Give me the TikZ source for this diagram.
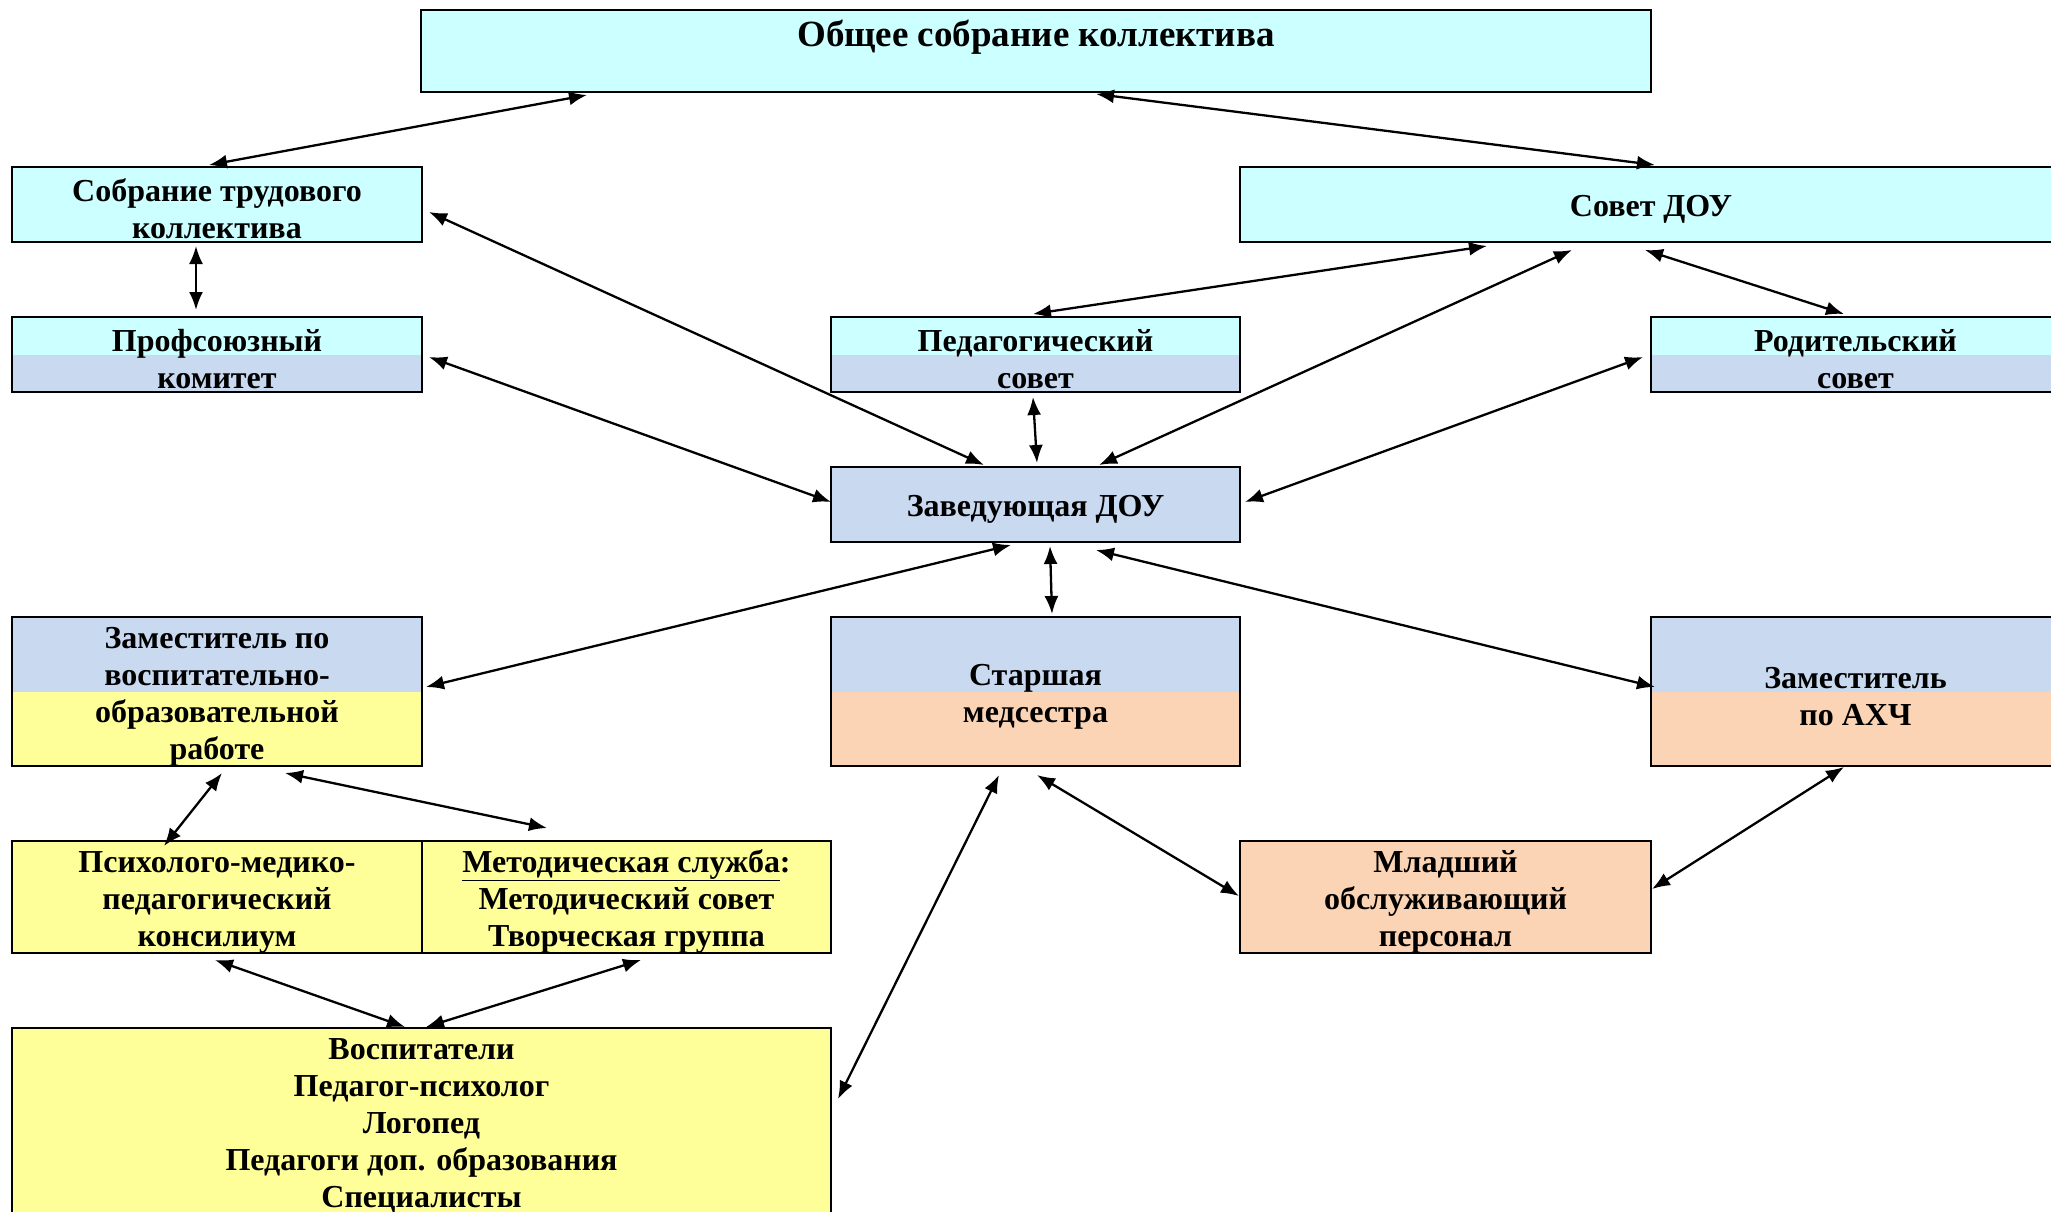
\documentclass[tikz,border=0pt]{standalone}
\usepackage{fontspec}
\setmainfont{Liberation Serif}
\usetikzlibrary{arrows.meta,calc}
\definecolor{cyanb}{RGB}{204,255,255}
\definecolor{blueb}{RGB}{200,217,240}
\definecolor{yellowb}{RGB}{255,255,153}
\definecolor{peachb}{RGB}{250,212,180}
\newcommand\tstr{\rule{0pt}{31pt}}
\begin{document}
\begin{tikzpicture}[x=1pt,y=-1pt,
  box/.style={draw=black,line width=2pt,inner sep=0pt,align=center,
    font=\fontsize{32}{37}\selectfont\bfseries},
  txt/.style={inner sep=0pt,align=center,font=\fontsize{32}{37}\selectfont\bfseries},
  twotone/.style 2 args={fill=#1,path picture={\fill[#2] (path picture bounding box.west) rectangle (path picture bounding box.south east);}},
  link/.style={line width=2.3pt,{Latex[length=18pt,width=14pt]}-{Latex[length=18pt,width=14pt]}}]
\useasboundingbox (0,0) rectangle (2051,1212);
\clip (0,0) rectangle (2051,1212);
\fill[white] (0,0) rectangle (2051,1212);

% boxes
\node[box,fill=cyanb,minimum width=1230pt,minimum height=82pt] (top) at (1036,51) {};
\node[txt,font=\fontsize{37}{42}\selectfont\bfseries] (toptxt) at ([shift={(0,28)}]top.north) {Общее собрание коллектива};

\node[box,fill=cyanb,minimum width=410pt,minimum height=75pt] (sobr) at (217,204.5) {\tstr Собрание трудового\\коллектива};
\node[box,fill=cyanb,minimum width=822pt,minimum height=75pt] (sovet) at (1651,204.5) {\tstr Совет ДОУ};

\node[box,twotone={cyanb}{blueb},minimum width=410pt,minimum height=75pt] (prof) at (217,354.5) {\tstr Профсоюзный\\комитет};
\node[box,twotone={cyanb}{blueb},minimum width=409pt,minimum height=75pt] (ped) at (1035.5,354.5) {\tstr Педагогический\\совет};
\node[box,twotone={cyanb}{blueb},minimum width=409pt,minimum height=75pt] (rod) at (1855.5,354.5) {\tstr Родительский\\совет};

\node[box,fill=blueb,minimum width=409pt,minimum height=75pt] (zav) at (1035.5,504.5) {\tstr Заведующая ДОУ};

\node[box,twotone={blueb}{yellowb},minimum width=410pt,minimum height=149pt] (zvor) at (217,691.5) {\tstr Заместитель по\\воспитательно-\\образовательной\\работе};
\node[box,twotone={blueb}{peachb},minimum width=409pt,minimum height=149pt] (med) at (1035.5,691.5) {\tstr Старшая\\медсестра};
\node[box,twotone={blueb}{peachb},minimum width=409pt,minimum height=149pt] (ahch) at (1855.5,691.5) {\tstr Заместитель\\по АХЧ};

\node[box,fill=yellowb,minimum width=410pt,minimum height=112pt] (psy) at (217,897) {\tstr Психолого-медико-\\педагогический\\консилиум};
\node[box,fill=yellowb,minimum width=409pt,minimum height=112pt] (met) at (626.5,897) {\tstr\underline{Методическая служба}:\\Методический совет\\Творческая группа};
\node[box,fill=peachb,minimum width=411pt,minimum height=112pt] (mlad) at (1445.5,897) {\tstr Младший\\обслуживающий\\персонал};

\node[box,fill=yellowb,minimum width=819pt,minimum height=212pt] (vosp) at (421.5,1134) {};
\node[txt] (vosptxt) at ([shift={(0,99)}]vosp.north) {Воспитатели\\Педагог-психолог\\Логопед\\Педагоги доп. образования\\Специалисты};

% connectors
\draw[link] ([shift={(-449,2)}]top.south) -- ([shift={(-8,-1)}]sobr.north);
\draw[link] ([shift={(60,1)}]top.south) -- ([shift={(4,-1)}]sovet.north);
\draw[link] ([shift={(-21,3)}]sobr.south) -- ([shift={(-21,-6)}]prof.north);
\draw[link] ([shift={(6,7.5)}]sobr.east) -- ([shift={(-51.5,-1)}]zav.north);
\draw[link] ([shift={(6,2.5)}]prof.east) -- ([shift={(1,-2.5)}]zav.west);
\draw[link] ([shift={(-164,3)}]sovet.south) -- ([shift={(-2.5,-2)}]ped.north);
\draw[link] ([shift={(-79,7)}]sovet.south) -- ([shift={(63.5,-1)}]zav.north);
\draw[link] ([shift={(-6,7)}]sovet.south) -- ([shift={(-11.5,-2)}]rod.north);
\draw[link] ([shift={(-2.5,4)}]ped.south) -- ([shift={(1.5,-3)}]zav.north);
\draw[link] ([shift={(4,-2.5)}]zav.east) -- ([shift={(-7,2.5)}]rod.west);
\draw[link] ([shift={(-24.5,2)}]zav.south) -- ([shift={(3,-4.5)}]zvor.east);
\draw[link] ([shift={(14.5,3)}]zav.south) -- ([shift={(16.5,-2)}]med.north);
\draw[link] ([shift={(60.5,7)}]zav.south) -- ([shift={(5,-4.5)}]ahch.west);
\draw[link] ([shift={(5,6)}]zvor.south) -- ([shift={(-53,6)}]psy.north);
\draw[link] ([shift={(68,6)}]zvor.south) -- ([shift={(-79.5,-12)}]met.north);
\draw[link] ([shift={(-2,6)}]psy.south) -- ([shift={(-16.5,0)}]vosp.north);
\draw[link] ([shift={(14.5,6)}]met.south) -- ([shift={(4.5,0)}]vosp.north);
\draw[link] ([shift={(-36.5,8)}]med.south) -- ([shift={(6,-35)}]vosp.east);
\draw[link] ([shift={(1.5,8)}]med.south) -- ([shift={(0,-1)}]mlad.west);
\draw[link] ([shift={(-11.5,0)}]ahch.south) -- ([shift={(0,-8)}]mlad.east);
\end{tikzpicture}
\end{document}
